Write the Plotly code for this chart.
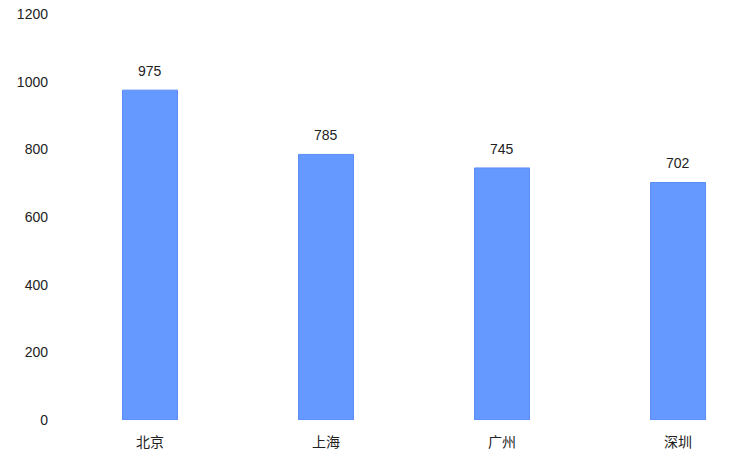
import plotly.graph_objects as go

cities = ["北京", "上海", "广州", "深圳"]
values = [975, 785, 745, 702]
y_ticks = [0, 200, 400, 600, 800, 1000, 1200]

fig = go.Figure()
fig.add_trace(go.Bar(
    x=cities, y=values, width=0.3125,
    marker=dict(color="#6699ff", line=dict(color="#5b8cf5", width=1)),
    hoverinfo="skip",
))
for c, v in zip(cities, values):
    fig.add_annotation(x=c, y=v, text=str(v), showarrow=False, yanchor="bottom",
                       yshift=9, font=dict(family="Liberation Sans, Arial", size=14, color="#222"))

fig.update_layout(
    width=752, height=469,
    margin=dict(l=62, r=12, t=14, b=49, autoexpand=False),
    paper_bgcolor="white", plot_bgcolor="white",
    showlegend=False,
    font=dict(family="Liberation Sans, 'Noto Sans CJK SC', Arial", size=14, color="#222"),
    xaxis=dict(range=[-0.5, 3.352], showgrid=False, showline=False, zeroline=False,
               ticks="", ticklabelstandoff=12, automargin=False,
               tickfont=dict(family="'Noto Sans CJK SC'", size=14, color="#222")),
    yaxis=dict(range=[0, 1200], tickvals=y_ticks, showgrid=False, showline=False,
               zeroline=False, ticks="", ticklabelstandoff=13, automargin=False,
               ticklabeloverflow="allow"),
)
fig.write_html("out.html", config={"displayModeBar": False},
               post_script="document.body.style.margin='0';")
